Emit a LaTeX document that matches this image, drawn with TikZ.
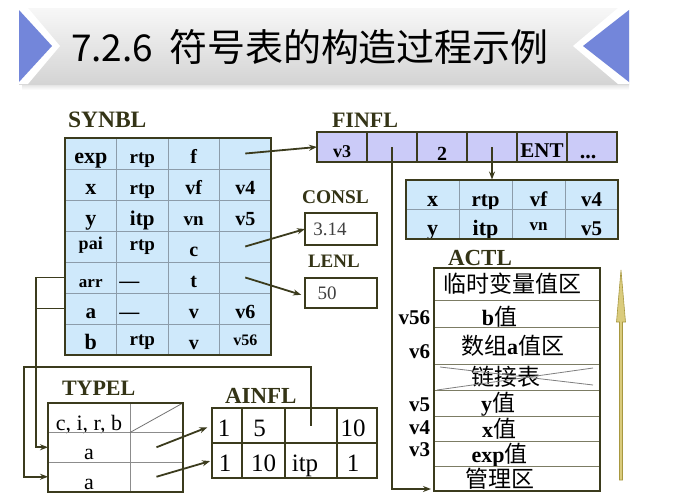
\documentclass[tikz,border=0pt]{standalone}
\usepackage{fontspec}
\setmainfont{Liberation Serif}
\newfontfamily\cjk{Noto Sans CJK SC}
\usetikzlibrary{arrows.meta}
\definecolor{ink}{HTML}{3B3B1D}
\definecolor{labc}{HTML}{343416}
\definecolor{synfill}{HTML}{CFE9FB}
\definecolor{finfill}{HTML}{CBCBF8}
\definecolor{gridc}{HTML}{8C9CAA}
\definecolor{actgrid}{HTML}{7C7C64}
\definecolor{bannerblue}{HTML}{7386DA}
\definecolor{gold}{HTML}{DACB7C}
\definecolor{golddark}{HTML}{A89840}
\newcommand\fsz[1]{\fontsize{#1pt}{#1pt}\selectfont}
\newcommand\up[2]{\raisebox{#1}{#2}}
\newcommand\zh[1]{{\cjk\mdseries #1}}
\newcommand\lb[1]{{\bfseries\fsz{22}#1}}
% trailing padding that survives the node's \unskip: pushes text left
\newcommand\pad[1]{\kern#1\relax}
% one row of the symbol table: name prefix, y centre, four cells
\newcommand\synrow[6]{%
  \node[syn] (#1a) at (90.75,#2) {#3};
  \node[syn] (#1b) at (142.25,#2) {#4};
  \node[syn] (#1c) at (193.75,#2) {#5};
  \node[syn] (#1d) at (245.25,#2) {#6};}

\begin{document}
\begin{tikzpicture}[x=1pt,y=-1pt,
  every node/.style={inner sep=0pt,outer sep=0pt},
  lab/.style={anchor=base west,text=labc},
  conn/.style={draw=ink,line width=1.8pt},
  tip/.style={-{Stealth[length=8pt,width=6pt]}},
  syn/.style={draw=gridc,line width=0.8pt,fill=synfill,minimum width=51.5pt,minimum height=31pt,text height=24pt,text depth=4pt,font=\bfseries\fsz{20}},
  rt/.style={draw=gridc,line width=0.8pt,fill=synfill,minimum width=53pt,minimum height=29.5pt,text height=26pt,text depth=2pt,font=\bfseries\fsz{21}},
  fin/.style={draw=ink,line width=1.2pt,fill=finfill,minimum width=50pt,minimum height=30pt,text height=24pt,text depth=4pt,font=\bfseries\fsz{20}},
  constbox/.style={draw=ink,line width=1.6pt,fill=white,minimum width=72pt,text=black!75,font=\fsz{19}},
  act/.style={draw=actgrid,line width=0.9pt,minimum width=166pt,text height=19.5pt,text depth=2pt,font=\fsz{23}},
  typ/.style={draw=black!45,line width=0.8pt,minimum height=29.5pt,text height=26pt,text depth=1pt,font=\fsz{22}},
  ain/.style={draw=ink,line width=1.3pt,minimum height=35pt,text height=26pt,text depth=4pt,font=\fsz{25}},
  vlab/.style={anchor=east,font=\bfseries\fsz{21}},
]
\useasboundingbox (0,0) rectangle (673,501);
\fill[white] (0,0) rectangle (673,501);

% ---- title banner ----
\shade[top color=black!12,bottom color=white] (22,84) rectangle (629,90);
\shade[top color=black!3,bottom color=black!17] (19,8) rectangle (629,84);
\fill[white] (19,8) -- (28,8) -- (60,46) -- (28,84) -- (19,84) -- cycle;
\fill[bannerblue] (19,10) -- (52,46) -- (19,82) -- cycle;
\fill[white] (629,8) -- (618,8) -- (573,46) -- (618,84) -- (629,84) -- cycle;
\fill[bannerblue] (629,10) -- (583,46) -- (629,82) -- cycle;
\node[anchor=base west,font=\cjk\fsz{37}] (ttlnum) at (71,61) {7.2.6};
\node[anchor=base west,font=\cjk\fsz{38}] (ttltxt) at (169,61) {符号表的构造过程示例};

% ---- labels ----
\node[lab,font=\bfseries\fsz{23.5}] (synbl) at (68,127) {SYNBL};
\node[lab,font=\bfseries\fsz{22}] (finfl) at (332,127) {FINFL};
\node[lab,font=\bfseries\fsz{19.4}] (consl) at (302,203) {CONSL};
\node[lab,font=\bfseries\fsz{19}] (lenlb) at (308,267) {LENL};
\node[lab,font=\bfseries\fsz{22}] (typel) at (62,395) {TYPEL};
\node[lab,font=\bfseries\fsz{23}] (ainfl) at (225,403) {AINFL};
\node[lab,font=\bfseries\fsz{23}] (actl) at (448,265) {ACTL};

% ---- SYNBL ----
\synrow{s1}{153.5}{\fsz{22}exp}{\fsz{19}rtp}{f}{}
\synrow{s2}{184.5}{\fsz{22}x}{\fsz{19}rtp}{\fsz{20}vf}{v4}
\synrow{s3}{215.5}{\fsz{22}y}{\fsz{21}itp}{\fsz{19}vn}{v5}
\synrow{s4}{246.5}{\up{7pt}{\fsz{18}pai}}{\up{6pt}{\fsz{19}rtp}}{c}{}
\synrow{s5}{277.5}{\fsz{17}arr}{—\pad{26pt}}{t}{}
\synrow{s6}{308.5}{\fsz{21}a}{—\pad{26pt}}{v}{v6}
\synrow{s7}{339.5}{\fsz{22}b}{\up{4pt}{\fsz{19}rtp}}{v}{\up{4pt}{\fsz{16}v56}}
\draw[ink,line width=2pt] (s1a.north west) rectangle (s7d.south east);

% ---- FINFL ----
\node[fin] (f1) at (342,147) {\fsz{18}v3};
\node[fin] (f2) at (392,147) {};
\node[fin] (f3) at (442,147) {\up{-3pt}{2}};
\node[fin] (f4) at (492,147) {};
\node[fin] (f5) at (542,147) {\fsz{21}ENT};
\node[fin] (f6) at (592,147) {\up{-1pt}{\fsz{22}...}\pad{8pt}};
\draw[ink,line width=2pt] (f1.north west) rectangle (f6.south east);

% ---- record of the function's parameters ----
\node[rt] (r1a) at (432.5,194.25) {\fsz{22}x};
\node[rt] (r1b) at (485.5,194.25) {rtp};
\node[rt] (r1c) at (538.5,194.25) {vf};
\node[rt] (r1d) at (591.5,194.25) {v4};
\node[rt] (r2a) at (432.5,223.75) {\fsz{22}y};
\node[rt] (r2b) at (485.5,223.75) {\fsz{22}itp};
\node[rt] (r2c) at (538.5,223.75) {\up{5pt}{\fsz{17}vn}};
\node[rt] (r2d) at (591.5,223.75) {v5};
\draw[ink,line width=2pt] (r1a.north west) rectangle (r2d.south east);

% ---- CONSL / LENL ----
\node[constbox,minimum height=32pt] (cons) at (341,229) {3.14\pad{22pt}};
\node[constbox,minimum height=30pt] (lenl) at (341,293) {50\pad{28pt}};

% ---- ACTL ----
\node[act,minimum height=32pt] (a1) at (517,284) {\zh{临时变量值区}\pad{9pt}};
\node[act,minimum height=27pt] (a2) at (517,313.5) {\up{-3pt}{\lb{b}\zh{值}}\pad{35pt}};
\node[act,minimum height=37pt] (a3) at (517,345.5) {\zh{数组}\lb{a}\zh{值区}\pad{9pt}};
\node[act,minimum height=26pt] (a4) at (517,377) {\zh{链接表}\pad{22pt}};
\node[act,minimum height=26pt] (a5) at (517,403) {\lb{y}\zh{值}\pad{38pt}};
\node[act,minimum height=25pt] (a6) at (517,428.5) {\lb{x}\zh{值}\pad{36pt}};
\node[act,minimum height=25pt] (a7) at (517,453.5) {\lb{exp}\zh{值}\pad{35pt}};
\node[act,minimum height=25pt] (a8) at (517,478.5) {\zh{管理区}\pad{34pt}};
\draw[ink,line width=2pt] (a1.north west) rectangle (a8.south east);
\draw[black!50,line width=0.8pt] ([xshift=3pt]a4.south west) -- ([xshift=-7pt,yshift=-4pt]a4.north east);
\draw[black!50,line width=0.8pt] ([xshift=6pt,yshift=-3pt]a4.north west) -- ([xshift=-7pt,yshift=5pt]a4.south east);
\node[vlab] (lv56) at (430,318) {v56};
\node[vlab] (lv6) at (430,352) {v6};
\node[vlab] (lv5) at (430,405) {v5};
\node[vlab] (lv4) at (430,427.5) {v4};
\node[vlab] (lv3) at (430,450) {v3};

% stack growth direction
\fill[gold,draw=golddark,line width=0.6pt] (619.5,480) -- (619.5,322) -- (616.5,322) -- (621,270) -- (625.5,322) -- (622.5,322) -- (622.5,480) -- cycle;

% ---- TYPEL ----
\node[typ,minimum width=82pt] (t1a) at (89,417.75) {c, i, r, b};
\node[typ,minimum width=53pt] (t1b) at (156.5,417.75) {};
\node[typ,minimum width=82pt] (t2a) at (89,447.25) {a};
\node[typ,minimum width=53pt] (t2b) at (156.5,447.25) {};
\node[typ,minimum width=82pt] (t3a) at (89,476.75) {a};
\node[typ,minimum width=53pt] (t3b) at (156.5,476.75) {};
\draw[black!55,line width=0.8pt] (t1b.south west) -- (t1b.north east);
\draw[ink,line width=2pt] (t1a.north west) rectangle (t3b.south east);

% ---- AINFL ----
\node[ain,minimum width=30pt] (ai1a) at (227,425.5) {1\pad{6pt}};
\node[ain,minimum width=43pt] (ai1b) at (263.5,425.5) {5\pad{8pt}};
\node[ain,minimum width=52pt] (ai1c) at (311,425.5) {};
\node[ain,minimum width=40pt] (ai1d) at (357,425.5) {10\pad{8pt}};
\node[ain,minimum width=30pt] (ai2a) at (227,460.5) {1\pad{4pt}};
\node[ain,minimum width=43pt] (ai2b) at (263.5,460.5) {10};
\node[ain,minimum width=52pt] (ai2c) at (311,460.5) {itp\pad{12pt}};
\node[ain,minimum width=40pt] (ai2d) at (357,460.5) {1\pad{8pt}};
\draw[ink,line width=2.2pt] (ai2a.north west) -- (ai2d.north east);
\draw[ink,line width=2.2pt] (ai1a.north west) rectangle (ai2d.south east);

% ---- connectors ----
\draw[conn,tip] (s1d.center) -- (f1.west);
\draw[conn,tip] (s4d.center) -- (cons.west);
\draw[conn,tip,shorten >=4pt] (s5d.center) -- ([yshift=-3pt]lenl.west);
\draw[conn,tip] (f4.center) -- (f4.center |- r1b.north);
\draw[conn,tip] (f2.center) |- ([xshift=-3pt,yshift=2pt]a8.south west);
\coordinate (busA) at (36,277.5);
\draw[conn,tip] (s5a.west) -- (busA) |- (t2a.west);
\draw[conn] (s6a.west) -- (s6a.west -| busA);
\coordinate (busB) at (24,367);
\draw[conn,tip] (ai1c.center) |- (busB) |- (t3a.west);
\draw[conn,tip,shorten >=5pt] (t2b.center) -- (ai1a.west);
\draw[conn,tip,shorten >=2pt] (t3b.center) -- (ai2a.west);
\end{tikzpicture}
\end{document}
